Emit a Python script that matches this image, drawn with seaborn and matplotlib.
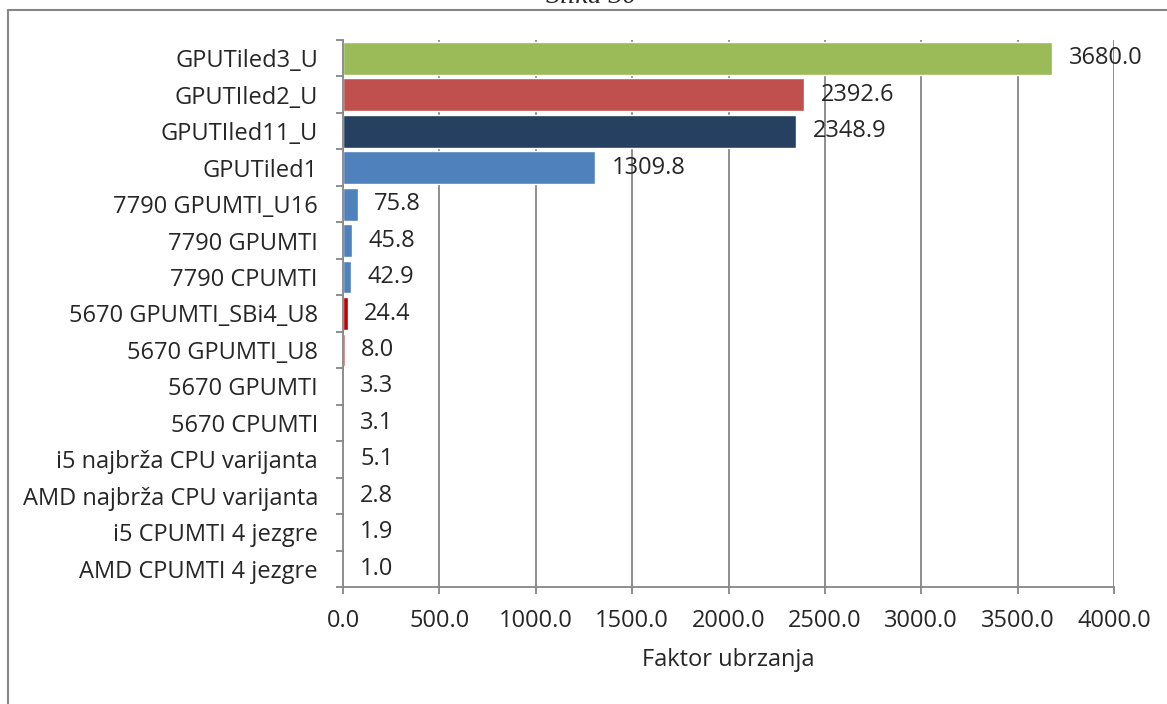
import pandas as pd
import matplotlib.pyplot as plt
import seaborn as sns
from matplotlib.lines import Line2D

# Data (top to bottom as in the chart)
categories = [
    'GPUTiled3_U', 'GPUTIled2_U', 'GPUTIled11_U', 'GPUTiled1',
    '7790 GPUMTI_U16', '7790 GPUMTI', '7790 CPUMTI',
    '5670 GPUMTI_SBi4_U8', '5670 GPUMTI_U8', '5670 GPUMTI', '5670 CPUMTI',
    'i5 najbrža CPU varijanta', 'AMD najbrža CPU varijanta',
    'i5 CPUMTI 4 jezgre', 'AMD CPUMTI 4 jezgre',
]
speedup = [3680.0, 2392.6, 2348.9, 1309.8, 75.8, 45.8, 42.9,
           24.4, 8.0, 3.3, 3.1, 5.1, 2.8, 1.9, 1.0]
bar_colors = ['#9BBB59', '#C0504D', '#254061', '#4F81BD',
              '#4F81BD', '#4F81BD', '#4F81BD',
              '#C00000', '#C0504D', '#C0504D', '#C0504D',
              '#4F6228', '#4F6228', '#4F81BD', '#4F81BD']
x_ticks = [0, 500, 1000, 1500, 2000, 2500, 3000, 3500, 4000]

df = pd.DataFrame({'cat': categories, 'val': speedup})
palette = dict(zip(categories, bar_colors))

sns.set_style('white')
plt.rcParams['font.family'] = ['Open Sans', 'DejaVu Sans']
fs = 17

fig = plt.figure(figsize=(11.67, 7.04), dpi=100)
ax = fig.add_axes([343 / 1167, 1 - 587 / 704, (1114 - 343) / 1167, (587 - 40) / 704])

sns.barplot(data=df, y='cat', x='val', hue='cat', palette=palette,
            order=categories, orient='h', width=0.9, saturation=1,
            legend=False, ax=ax)

grey = '#868686'
ax.set_xlim(0, 4000)
ax.set_ylim(len(categories) - 0.5, -0.5)
ax.set_xticks(x_ticks)
ax.set_xticklabels([f'{v:.1f}' for v in x_ticks], fontsize=fs)
ax.xaxis.grid(True, color=grey, linewidth=1.3)
ax.set_axisbelow(True)

# category boundaries as major ticks, names as minor ticks
ax.set_yticks([i - 0.5 for i in range(len(categories) + 1)])
ax.set_yticklabels([])
ax.set_yticks(range(len(categories)), minor=True)
ax.set_yticklabels(categories, minor=True, fontsize=fs)
ax.tick_params(axis='y', which='major', length=5, width=1.3, color=grey, left=True)
ax.tick_params(axis='y', which='minor', length=0, pad=18)
ax.tick_params(axis='x', length=5, width=1.3, color=grey, bottom=True, pad=11)

for s in ['top', 'right']:
    ax.spines[s].set_visible(False)
for s in ['left', 'bottom']:
    ax.spines[s].set_color(grey)
    ax.spines[s].set_linewidth(1.3)

for cont in ax.containers:
    ax.bar_label(cont, fmt='%.1f', padding=12, fontsize=fs)

ax.set_xlabel('Faktor ubrzanja', fontsize=fs, labelpad=11)
ax.set_ylabel('')

# outer frame (partly outside the picture)
fx = 8 / 1167
fy = 1 - 10 / 704
fig.add_artist(Line2D([fx, fx], [0, fy], color=grey, linewidth=1.5))
fig.add_artist(Line2D([fx, 1], [fy, fy], color=grey, linewidth=1.5))

# caption cut off at the top, as in the source
fig.text(591 / 1167, 1 - 3 / 704, 'Slika 30', ha='center', va='baseline',
         fontsize=20, family='Liberation Serif', style='italic')

fig.savefig('out.png', dpi=100)
